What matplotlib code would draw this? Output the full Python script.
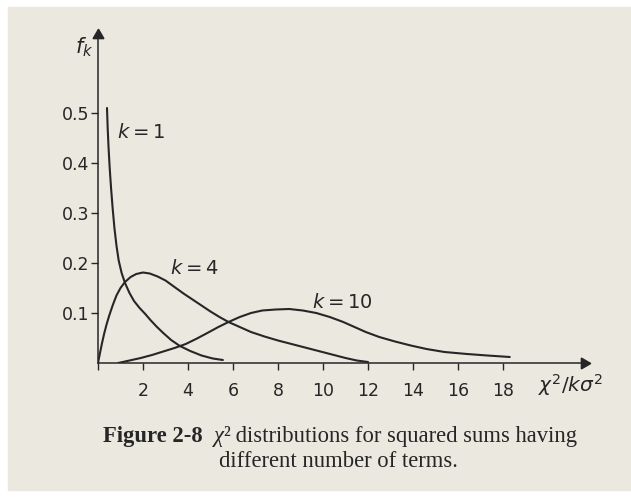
import numpy as np
import matplotlib
matplotlib.use("Agg")
import matplotlib.pyplot as plt
from matplotlib.patches import Rectangle

plt.rcParams["mathtext.fontset"] = "custom"
plt.rcParams["mathtext.rm"] = "DejaVu Sans"
plt.rcParams["mathtext.it"] = "DejaVu Sans:italic"

# values (x = chi^2, y = f_k)
k1_x = [0.4, 0.43, 0.47, 0.52, 0.58, 0.65, 0.73, 0.82, 0.92, 1.05, 1.2, 1.4, 1.6, 1.85, 2.1,
        2.35, 2.6, 2.9, 3.25, 3.64, 4.1, 4.6, 5.1, 5.55]
k1_y = [0.51, 0.47, 0.43, 0.39, 0.35, 0.31, 0.27, 0.235, 0.205, 0.18, 0.16, 0.14, 0.124, 0.11, 0.098,
        0.085, 0.073, 0.06, 0.046, 0.034, 0.024, 0.015, 0.009, 0.006]

k4_x = [0.0, 0.08, 0.17, 0.27, 0.38, 0.5, 0.65, 0.82, 1.0, 1.2, 1.45, 1.7, 2.0, 2.3, 2.65, 3.0,
        3.4, 3.8, 4.2, 4.6, 5.0, 5.4, 5.8, 6.3, 6.8, 7.4, 8.0, 8.6, 9.2, 9.8, 10.4, 11.0, 11.5, 12.0]
k4_y = [0.0, 0.018, 0.038, 0.058, 0.077, 0.095, 0.115, 0.135, 0.15, 0.162, 0.172, 0.178, 0.181, 0.179,
        0.173, 0.165, 0.152, 0.139, 0.127, 0.115, 0.103, 0.092, 0.082, 0.072, 0.062, 0.053, 0.045,
        0.038, 0.031, 0.024, 0.017, 0.01, 0.005, 0.002]

k10_x = [0.9, 1.4, 1.9, 2.4, 2.9, 3.4, 3.9, 4.4, 4.9, 5.35, 5.8, 6.3, 6.8, 7.3, 7.9, 8.5, 9.1, 9.7,
         10.3, 10.9, 11.4, 11.9, 12.5, 13.2, 13.9, 14.6, 15.4, 16.4, 17.3, 18.3]
k10_y = [0.0, 0.005, 0.01, 0.016, 0.023, 0.03, 0.038, 0.049, 0.061, 0.072, 0.082, 0.092, 0.1, 0.105,
         0.107, 0.108, 0.105, 0.1, 0.092, 0.082, 0.072, 0.062, 0.052, 0.043, 0.035, 0.028, 0.022,
         0.018, 0.015, 0.012]

y_ticks = [0.1, 0.2, 0.3, 0.4, 0.5]
x_ticks = [0, 2, 4, 6, 8, 10, 12, 14, 16, 18]
x_labels = ["", "2", "4", "6", "8", "10", "12", "14", "16", "18"]

ink = "#262626"
paper = "#ebe8e0"

fig = plt.figure(figsize=(6.31, 4.97), dpi=100, facecolor="white")
fig.patches.append(Rectangle((8 / 631, 7 / 497), 623 / 631, 483 / 497,
                             transform=fig.transFigure, color=paper, zorder=-1))

ax = fig.add_axes([98 / 631, 134 / 497, 486 / 631, 328 / 497])
ax.set_facecolor("none")
ax.set_xlim(0, 21.6)
ax.set_ylim(0, 0.656)

for xs, ys in [(k1_x, k1_y), (k4_x, k4_y), (k10_x, k10_y)]:
    ax.plot(xs, ys, color=ink, lw=1.5, solid_capstyle="round", solid_joinstyle="round")

for s in ["top", "right"]:
    ax.spines[s].set_visible(False)
for s in ["left", "bottom"]:
    ax.spines[s].set_color(ink)
    ax.spines[s].set_linewidth(1.1)

# arrow heads
ax.plot(1, 0, marker=(3, 0, -90), ms=9, color=ink, transform=ax.get_yaxis_transform(), clip_on=False)
ax.plot(0, 1, marker=(3, 0, 0), ms=9, color=ink, transform=ax.get_xaxis_transform(), clip_on=False)

ax.set_xticks(x_ticks)
ax.set_xticklabels(x_labels)
ax.set_yticks(y_ticks)
ax.set_yticklabels([f"{v:.1f}" for v in y_ticks])
ax.tick_params(axis="both", colors=ink, labelcolor=ink, labelsize=12.5, width=1, length=5)
ax.tick_params(axis="x", pad=9)
ax.tick_params(axis="y", pad=1)

ax.text(-0.2, 0.632, r"$f_k$", fontsize=15, color=ink, ha="right", va="center")
ax.text(0.85, 0.46, r"$k = 1$", fontsize=14, color=ink, ha="left", va="center")
ax.text(3.2, 0.19, r"$k = 4$", fontsize=14, color=ink, ha="left", va="center")
ax.text(9.5, 0.12, r"$k = 10$", fontsize=14, color=ink, ha="left", va="center")
ax.text(19.55, -0.045, r"$\chi^2/k\sigma^2$", fontsize=14.5, color=ink, ha="left", va="center",
        clip_on=False)

# caption, built from pieces so the bold part and the italic chi sit inline
renderer = fig.canvas.get_renderer()


def caption_line(parts, cx, cy, size):
    texts = []
    for s, kw in parts:
        t = fig.text(0, 1 - cy / 497, s, fontsize=size, family="Liberation Serif", color=ink,
                     ha="left", va="baseline", **kw)
        texts.append(t)
    widths = [t.get_window_extent(renderer).width for t in texts]
    x = cx - sum(widths) / 2
    for t, w in zip(texts, widths):
        t.set_x(x / 631)
        x += w


cap_size = 16.3
caption_line([("Figure 2-8", dict(weight="bold")), ("  ", {}), ("\u03c7", dict(style="italic")),
              ("\u00b2", {}), (" distributions for squared sums having", {})], 340, 442, cap_size)
caption_line([("different number of terms.", {})], 338, 467, cap_size)

fig.savefig("out.png", dpi=100, facecolor=fig.get_facecolor())
